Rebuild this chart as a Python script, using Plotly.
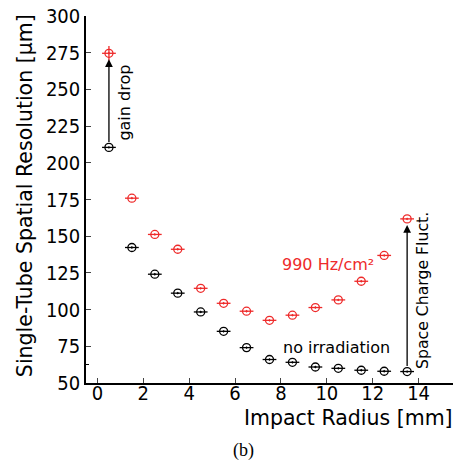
import plotly.graph_objects as go

radius = [0.5, 1.5, 2.5, 3.5, 4.5, 5.5, 6.5, 7.5, 8.5, 9.5, 10.5, 11.5, 12.5, 13.5]
res_no_irr = [210.5, 142.3, 124.1, 111.2, 98.4, 85.2, 74.1, 66.0, 64.1, 60.9, 60.0, 58.7, 58.0, 57.8]
res_990 = [274.6, 175.9, 151.2, 141.1, 114.5, 104.3, 98.9, 92.7, 96.2, 101.4, 106.6, 119.3, 136.9, 161.8]
x_err = [0.3] * 14
y_err_990 = [5, 0, 0, 0, 0, 0, 0, 0, 0, 0, 0, 0, 0, 0]
x_ticks = [0, 2, 4, 6, 8, 10, 12, 14]
y_ticks = [50, 75, 100, 125, 150, 175, 200, 225, 250, 275, 300]

RED = "#ee2a2a"
FONT = "DejaVu Sans"
TICKFONT = "DejaVu Sans Condensed, DejaVu Sans"

fig = go.Figure()
fig.add_trace(go.Scatter(
    x=radius, y=res_990, mode="markers",
    marker=dict(symbol="circle-open-dot", size=8, color=RED, line=dict(width=1.3, color=RED)),
    error_x=dict(type="data", array=x_err, color=RED, thickness=1.3, width=0),
    error_y=dict(type="data", array=y_err_990, color=RED, thickness=1.3, width=0),
    showlegend=False))
fig.add_trace(go.Scatter(
    x=radius, y=res_no_irr, mode="markers",
    marker=dict(symbol="circle-open-dot", size=8, color="black", line=dict(width=1.3, color="black")),
    error_x=dict(type="data", array=x_err, color="black", thickness=1.3, width=0),
    showlegend=False))

# arrows
for i in (0, len(radius) - 1):
    fig.add_annotation(x=radius[i], y=res_990[i], ax=radius[i], ay=res_no_irr[i],
                       xref="x", yref="y", axref="x", ayref="y", text="",
                       showarrow=True, arrowhead=2, arrowsize=1.2, arrowwidth=1.3,
                       arrowcolor="black", standoff=6, startstandoff=4)

fig.add_annotation(x=1.2, y=241, text="gain drop", textangle=-90, showarrow=False,
                   font=dict(family=FONT, size=16, color="black"))
fig.add_annotation(x=14.17, y=113, text="Space Charge Fluct.", textangle=-90, showarrow=False,
                   font=dict(family=FONT, size=15.7, color="black"))
fig.add_annotation(x=10.05, y=131, text="990 Hz/cm²", showarrow=False,
                   font=dict(family=FONT, size=16, color=RED))
fig.add_annotation(x=10.43, y=74, text="no irradiation", showarrow=False,
                   font=dict(family=FONT, size=16, color="black"))

# axis titles (placed as in the reference)
fig.add_annotation(x=0.714, y=-0.096, xref="paper", yref="paper",
                   xanchor="center", yanchor="middle", text="Impact Radius [mm]",
                   showarrow=False, font=dict(family=FONT, size=20.5, color="black"))
fig.add_annotation(x=-0.1676, y=0.5105, xref="paper", yref="paper", textangle=-90,
                   xanchor="center", yanchor="middle",
                   text="Single-Tube Spatial Resolution [µm]",
                   showarrow=False, font=dict(family=FONT, size=20.5, color="black"))
fig.add_annotation(x=0.428, y=-0.185, xref="paper", yref="paper",
                   xanchor="center", yanchor="middle", text="(b)", showarrow=False,
                   font=dict(family="Liberation Serif", size=18, color="black"))

fig.update_layout(
    width=463, height=464,
    margin=dict(l=86, r=10, t=16, b=81.3, autoexpand=False),
    plot_bgcolor="white", paper_bgcolor="white",
    font=dict(family=FONT, size=19, color="black"),
)
fig.update_xaxes(range=[-0.5, 15.5], tickvals=x_ticks, ticks="inside", ticklen=5,
                 tickwidth=1.3, showline=True, linecolor="black", linewidth=1.5,
                 showgrid=False, zeroline=False, mirror=False, automargin=False,
                 ticklabelstandoff=-9,
                 tickfont=dict(family=TICKFONT, size=20))
fig.update_yaxes(range=[50, 300], tickvals=y_ticks, ticks="inside", ticklen=5,
                 tickwidth=1.3, showline=True, linecolor="black", linewidth=1.5,
                 showgrid=False, zeroline=False, mirror=False, automargin=False,
                 tickfont=dict(family=TICKFONT, size=20),
                 minor=dict(tickvals=[62.5], ticks="inside", ticklen=3, tickwidth=1.0,
                            tickcolor="black", showgrid=False))

fig.write_html("out.html", config={"displayModeBar": False},
               post_script="document.body.style.margin='0';document.body.style.overflow='hidden';")
